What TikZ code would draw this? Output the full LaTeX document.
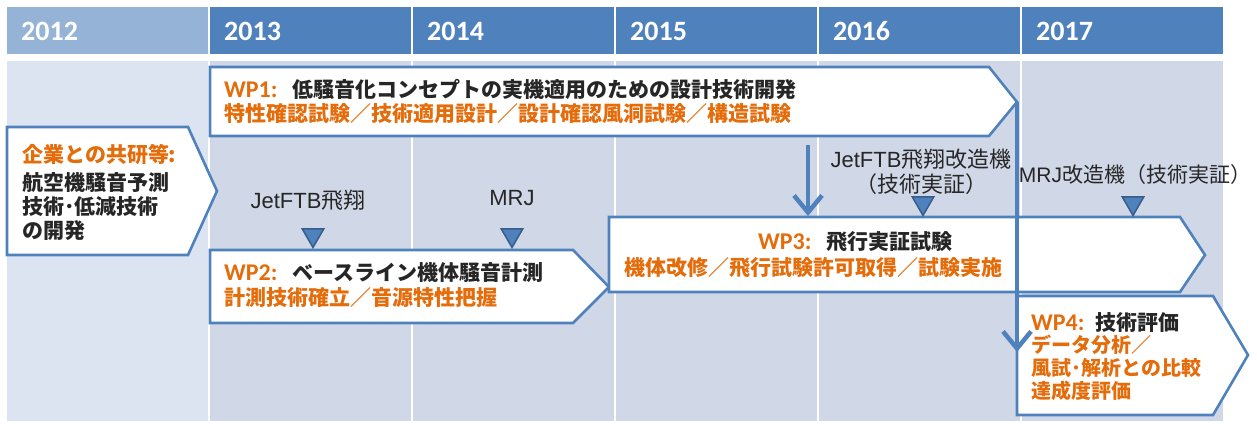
\documentclass[tikz,border=0pt]{standalone}
\usepackage{fontspec}
\usepackage{xcolor}
\usetikzlibrary{arrows.meta,shapes.geometric}
\setmainfont{Carlito}
\newfontfamily\jp{Noto Sans CJK JP}
\newfontfamily\lat{Liberation Sans}

\definecolor{hdrblue}{HTML}{4F81BD}
\definecolor{hdrlight}{HTML}{95B3D7}
\definecolor{bodyblue}{HTML}{D0D8E8}
\definecolor{bodylight}{HTML}{DCE4F2}
\definecolor{lineblue}{HTML}{4F81BD}
\definecolor{triedge}{HTML}{385D8A}
\definecolor{wporange}{HTML}{E46C0A}
\definecolor{textdark}{HTML}{262626}

\newcommand{\wpid}[2][68pt]{\makebox[#1][l]{\rmfamily\bfseries\fontsize{24}{28}\selectfont\color{wporange}#2}}

\begin{document}
\begin{tikzpicture}[x=1pt,y=-1pt,
  wpbox/.style={draw=lineblue,line width=2.6pt,fill=white,line join=miter},
  wpflow/.style={draw=lineblue,line width=4.5pt,-{Straight Barb[length=17pt,width=28pt,line width=4.5pt]}},
  milestone/.style={regular polygon,regular polygon sides=3,shape border rotate=180,
    fill=hdrblue,draw=triedge,line width=1.5pt,minimum size=25pt,inner sep=0pt},
  year/.style={anchor=west,inner sep=0pt,text=white,font=\bfseries\fontsize{28}{32}\selectfont},
  wptext/.style={anchor=west,inner sep=0pt,text=textdark,font=\jp\bfseries\fontsize{21}{25}\selectfont},
  subtext/.style={wptext,text=wporange},
  smalltext/.style={subtext,font=\jp\bfseries\fontsize{20}{24}\selectfont},
  mlabel/.style={inner sep=0pt,text=textdark,align=center,font=\jp\fontsize{22}{25}\selectfont}]
\useasboundingbox (0,0) rectangle (1257,423);

% year columns
\foreach \yr/\hc/\bc [count=\i from 0] in {2012/hdrlight/bodylight,2013/hdrblue/bodyblue,
    2014/hdrblue/bodyblue,2015/hdrblue/bodyblue,2016/hdrblue/bodyblue,2017/hdrblue/bodyblue} {
  \fill[\hc] (7+203*\i,7) rectangle ++(201,47);
  \fill[\bc] (7+203*\i,61) rectangle ++(201,360);
  \node[year] (y\yr) at (21+203*\i,31) {\yr};
}

% work packages
\draw[wpbox] (7,127) -- (188,127) -- (217,191) -- (188,255) -- (7,255) -- cycle;
\draw[wpbox] (210,67) -- (989,67) -- (1017,102) coordinate (wp1tip) -- (989,136) -- (210,136) -- cycle;
\draw[wpbox] (210,250) -- (573,250) -- (609,287) -- (573,323) -- (210,323) -- cycle;
\draw[wpbox] (609,217) -- (1180,217) -- (1205,255) -- (1180,292) -- (609,292) -- cycle;
\draw[wpbox] (1017,296) -- (1213,296) -- (1248,355) -- (1213,415) -- (1017,415) -- cycle;

\coordinate (wp1out) at (808,145);
\coordinate (wp3in) at (808,216);
\coordinate (wp4in) at (1017,352);
\draw[wpflow] (wp1out) -- (wp3in);
\draw[wpflow] (wp1tip) -- (wp4in);

% milestones
\node[milestone] (tri1) at (313,235) {};
\node[milestone] (tri2) at (512,235) {};
\node[milestone] (tri3) at (923,203) {};
\node[milestone] (tri4) at (1133,203) {};
\node[mlabel] (lab1) at (308,200) {{\lat JetFTB}飛翔};
\node[mlabel] (lab2) at (512,198) {\lat MRJ};
\node[mlabel] (lab3) at (921,172) {{\lat JetFTB}飛翔改造機\\（技術実証）};
\node[mlabel,font=\jp\fontsize{21}{25}\selectfont] (lab4) at (1135,175) {{\lat MRJ}改造機（技術実証）};

% texts
\node[subtext] (lead1) at (22,155) {企業との共研等:};
\node[wptext] (lead2) at (22,183) {航空機騒音予測};
\node[wptext] (lead3) at (22,207) {技術･低減技術};
\node[wptext] (lead4) at (22,231) {の開発};

\node[wptext] (wp1a) at (224,89) {\wpid{WP1:}低騒音化コンセプトの実機適用のための設計技術開発};
\node[subtext] (wp1b) at (224,114) {特性確認試験／技術適用設計／設計確認風洞試験／構造試験};
\node[wptext] (wp2a) at (224,273) {\wpid{WP2:}ベースライン機体騒音計測};
\node[subtext] (wp2b) at (224,298) {計測技術確立／音源特性把握};
\node[wptext] (wp3a) at (758,242) {\wpid{WP3:}飛行実証試験};
\node[subtext] (wp3b) at (624,268) {機体改修／飛行試験許可取得／試験実施};
\node[wptext] (wp4a) at (1031,323) {\wpid[64pt]{WP4:}技術評価};
\node[smalltext] (wp4b) at (1031,345) {データ分析／};
\node[smalltext] (wp4c) at (1031,368) {風試･解析との比較};
\node[smalltext] (wp4d) at (1031,391) {達成度評価};
\end{tikzpicture}
\end{document}
